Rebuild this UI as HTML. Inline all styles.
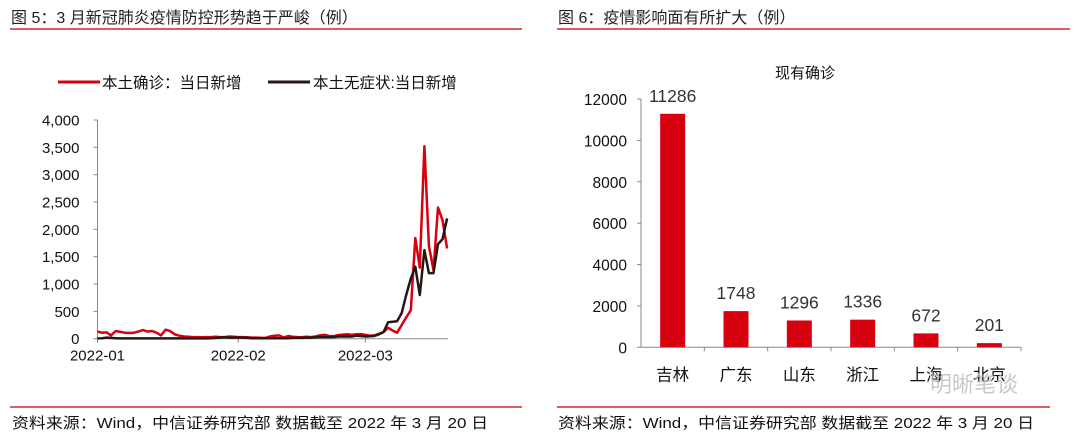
<!DOCTYPE html>
<html><head><meta charset="utf-8">
<style>
body{margin:0;width:1080px;height:435px;background:#fff;overflow:hidden;font-family:"Liberation Sans","Noto Sans CJK SC",sans-serif;}
svg{position:absolute;left:0;top:0}
</style></head><body>
<svg width="1080" height="435">
<g id="left">
<text x="11" y="23" font-size="16" fill="#222">图 5：3 月新冠肺炎疫情防控形势趋于严峻（例）</text>
<line x1="10" y1="29" x2="522" y2="29" stroke="#d0262d" stroke-width="1.5"/>
<line x1="58" y1="82" x2="100" y2="82" stroke="#d7000f" stroke-width="3"/>
<text x="102" y="88" font-size="15.5" fill="#111">本土确诊：当日新增</text>
<line x1="268" y1="82" x2="310" y2="82" stroke="#231815" stroke-width="3"/>
<text x="313" y="88" font-size="15.5" fill="#111">本土无症状:当日新增</text>
<g id="lax"></g>
<g id="lines"></g>
<text x="12" y="428" font-size="15" fill="#111" textLength="476" lengthAdjust="spacingAndGlyphs">资料来源：Wind，中信证券研究部 数据截至 2022 年 3 月 20 日</text>
<line x1="10" y1="407" x2="522" y2="407" stroke="#d0262d" stroke-width="1.5"/>
</g>
<g id="right">
<text x="558" y="23" font-size="16" fill="#222">图 6：疫情影响面有所扩大（例）</text>
<line x1="557" y1="29" x2="1070" y2="29" stroke="#d0262d" stroke-width="1.5"/>
<text x="805" y="78" font-size="15" fill="#111" text-anchor="middle">现有确诊</text>
<g id="rax"></g>
<g id="bars"></g>
<text x="558" y="428" font-size="15" fill="#111" textLength="476" lengthAdjust="spacingAndGlyphs">资料来源：Wind，中信证券研究部 数据截至 2022 年 3 月 20 日</text>
<line x1="557" y1="407" x2="1050" y2="407" stroke="#d0262d" stroke-width="1.5"/>
<text x="930" y="392" font-size="22" fill="#bbb" opacity="0.8">明晰笔谈</text>
</g>
</svg>
<script>
const confirmedJan=[130,110,115,60,140,125,110,105,110,130,160,130,140,110,60,165,140,80,55,40,35,30,30,25,30,30,35,30,30,40,35];
const confirmedFeb=[30,30,25,20,20,15,15,40,55,60,20,50,35,30,25,35,30,40,60,70,50,45,65,75,80,70,80,85];
const confirmedMar=[70,55,60,90,120,200,150,110,250,390,520,1840,1300,3520,1700,1250,2400,2170,1650];
const asymJan=[5,10,20,15,10,5,5,5,5,5,5,5,5,5,5,5,5,5,5,5,5,5,5,5,5,10,15,20,25,20,20];
const asymFeb=[20,20,15,10,10,10,10,10,10,10,10,10,15,15,15,20,20,25,30,30,30,30,40,40,40,40,55,50];
const asymMar=[40,45,50,80,120,300,310,320,470,800,1100,1316,800,1620,1200,1200,1730,1820,2200];
const yTicksL=[0,500,1000,1500,2000,2500,3000,3500,4000];
const yTickLabelsL=["0","500","1,000","1,500","2,000","2,500","3,000","3,500","4,000"];
const monthLabels=["2022-01","2022-02","2022-03"];
const monthStartIdx=[0,31,59];
const provinces=["吉林","广东","山东","浙江","上海","北京"];
const currentConfirmed=[11286,1748,1296,1336,672,201];
const yTicksR=[0,2000,4000,6000,8000,10000,12000];

const NS="http://www.w3.org/2000/svg";
function mk(parent,tag,attrs,text){const e=document.createElementNS(NS,tag);for(const k in attrs)e.setAttribute(k,attrs[k]);if(text!==undefined)e.textContent=text;parent.appendChild(e);return e;}

const lx0=97.5,dayW=4.54,ly0=338.7,lyTop=120;
const lxs=i=>lx0+i*dayW;
const lys=v=>ly0-v/4000*(ly0-lyTop);
const lax=document.getElementById('lax');
const ya=mk(lax,'line',{x1:lx0,y1:lyTop,x2:lx0,y2:ly0,stroke:'#888','stroke-width':1});


for(let i=0;i<yTicksL.length;i++){const y=lys(yTicksL[i]);
 const t=mk(lax,'line',{x1:lx0-4,y1:y,x2:lx0,y2:y,stroke:'#888'});
 
 
 const l=mk(lax,'text',{x:lx0-18,y:y+5.5,'font-size':15,'text-anchor':'end',fill:'#111'},yTickLabelsL[i]);
 
 }
const total=confirmedJan.length+confirmedFeb.length+confirmedMar.length;
const xa=mk(lax,'line',{x1:lx0,y1:ly0,x2:lxs(total-1)+1,y2:ly0,stroke:'#888'});


for(let i=0;i<monthLabels.length;i++){const x=lxs(monthStartIdx[i]);
 const t=mk(lax,'line',{x1:x,y1:ly0,x2:x,y2:ly0+4,stroke:'#888'});
 
 
 const l=mk(lax,'text',{x:x,y:ly0+22,'font-size':15,'text-anchor':'middle',fill:'#111'},monthLabels[i]);
 
 }
const lines=document.getElementById('lines');
function path(vals){return vals.map((v,i)=>(i?'L':'M')+lxs(i).toFixed(1)+','+lys(v).toFixed(1)).join('');}
const conf=confirmedJan.concat(confirmedFeb,confirmedMar);
const asym=asymJan.concat(asymFeb,asymMar);
const p1=mk(lines,'path',{d:path(conf),fill:'none',stroke:'#d7000f','stroke-width':2.5,'stroke-linejoin':'round'});


const p2=mk(lines,'path',{d:path(asym),fill:'none',stroke:'#231815','stroke-width':2.5,'stroke-linejoin':'round'});



const rx0=641,rx1=1021,ry0=347.3,ryTop=99;
const rys=v=>ry0-v/12000*(ry0-ryTop);
const slot=(rx1-rx0)/provinces.length;
const rax=document.getElementById('rax');
const rya=mk(rax,'line',{x1:rx0,y1:ryTop,x2:rx0,y2:ry0,stroke:'#888'});


for(const v of yTicksR){const y=rys(v);
 const t=mk(rax,'line',{x1:rx0-4,y1:y,x2:rx0,y2:y,stroke:'#888'});
 
 
 const l=mk(rax,'text',{x:rx0-14,y:y+6,'font-size':15.5,'text-anchor':'end',fill:'#111'},String(v));
 
 }
const rxa=mk(rax,'line',{x1:rx0,y1:ry0,x2:rx1,y2:ry0,stroke:'#888'});


const bars=document.getElementById('bars');
for(let i=0;i<provinces.length;i++){
 const cx=rx0+slot*(i+0.5);
 const t=mk(rax,'line',{x1:rx0+slot*(i+1),y1:ry0,x2:rx0+slot*(i+1),y2:ry0+4,stroke:'#888'});
 
 
 const y=rys(currentConfirmed[i]);
 const b=mk(bars,'rect',{x:cx-12.5,y:y,width:25,height:ry0-y,fill:'#d7000f'});
 
 
 const vl=mk(bars,'text',{x:cx,y:y-12,'font-size':17.5,'text-anchor':'middle',fill:'#333'},String(currentConfirmed[i]));
 
 
 const cl=mk(bars,'text',{x:cx,y:ry0+33,'font-size':16.5,'text-anchor':'middle',fill:'#111'},provinces[i]);
 
 
}
</script>
</body></html>
